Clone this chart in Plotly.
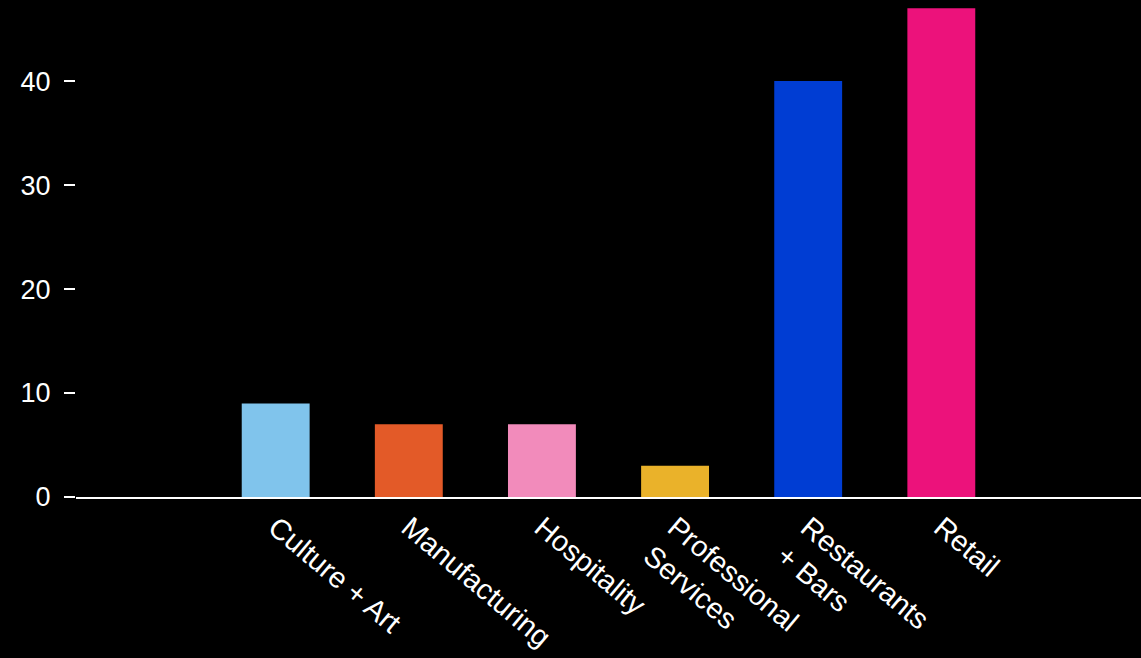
import plotly.graph_objects as go

categories = ["Culture + Art", "Manufacturing", "Hospitality",
              "Professional<br>Services", "Restaurants<br>+ Bars", "Retail"]
values = [9, 7, 7, 3, 40, 47]
colors = ["#80C4EC", "#E35A28", "#F28BBB", "#EAB22A", "#003DD3", "#EC127B"]
y_ticks = [0, 10, 20, 30, 40]

fig = go.Figure(go.Bar(
    x=list(range(len(categories))), y=values,
    marker=dict(color=colors, line=dict(width=0)),
    width=0.51, hoverinfo="skip",
))

fig.update_layout(
    width=1141, height=658,
    paper_bgcolor="black", plot_bgcolor="black",
    margin=dict(l=76, r=0, t=0, b=161, autoexpand=False),
    font=dict(family="Liberation Sans", color="white", size=24),
    showlegend=False,
)
fig.update_xaxes(
    tickmode="array", tickvals=list(range(len(categories))), ticktext=categories,
    range=[-1.5, 6.5], tickangle=40, showgrid=False, zeroline=False,
    showline=True, linecolor="white", linewidth=2, ticks="",
    tickfont=dict(size=29), automargin=False,
)
fig.update_yaxes(
    range=[0, 47.8], tickvals=y_ticks, showgrid=False, zeroline=False,
    showline=False, ticks="outside", ticklen=11, tickwidth=2, tickcolor="white",
    ticklabelstandoff=8, tickfont=dict(size=27), automargin=False,
)

fig.write_html(
    "out.html",
    config={"displayModeBar": False},
    post_script="document.body.style.margin='0';document.body.style.padding='0';"
                "document.body.style.background='black';",
)
